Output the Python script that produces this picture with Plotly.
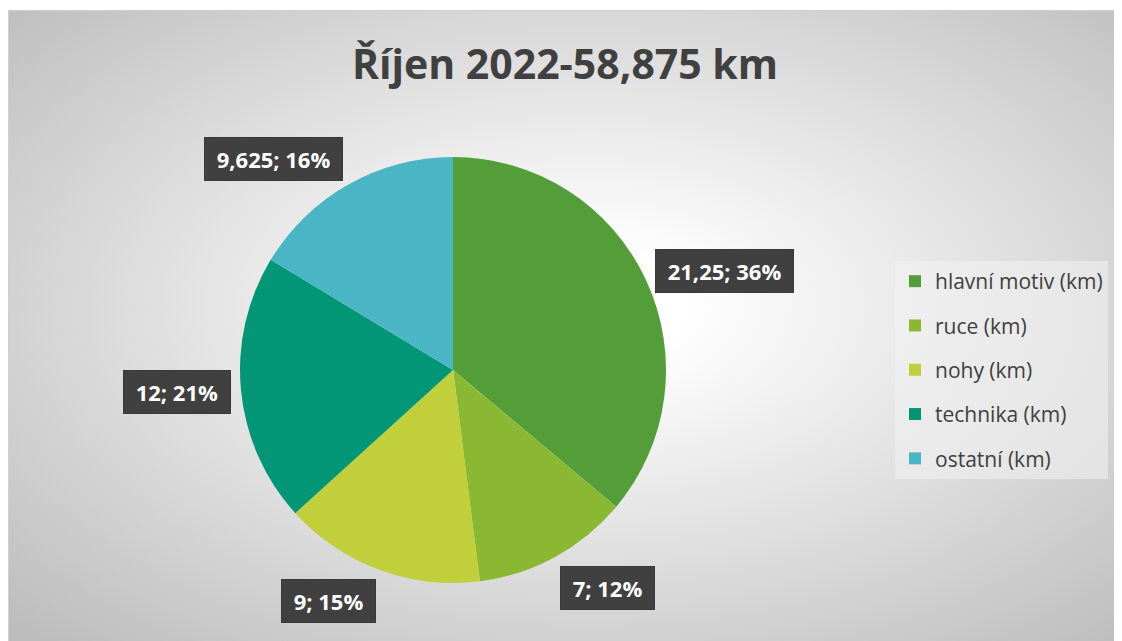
import math
import base64
import plotly.graph_objects as go

# ---------------- data ----------------
categories = ["hlavní motiv (km)", "ruce (km)", "nohy (km)", "technika (km)", "ostatní (km)"]
values = [21.25, 7, 9, 12, 9.625]
title_text = "Říjen 2022-58,875 km"

# ---------------- styles / geometry ----------------
colors = ["#549E39", "#8AB833", "#C0CF3A", "#029676", "#4AB5C4"]
W, H = 1114, 633            # figure size (page body margin is 8px)
OX, OY = 8, 8               # page offset of the figure
PIE_CX, PIE_CY, PIE_R = 453 - OX, 370 - OY, 213   # pixel geometry of the pie (figure px)
LABEL_GAP = 10
FONT = "Open Sans"

total = sum(values)


def fmt(v):
    return ("%g" % v).replace(".", ",")


def rounded_percents(vals):
    # largest-remainder rounding so that the labels add up to 100 %
    raw = [v / sum(vals) * 100 for v in vals]
    base = [int(math.floor(r)) for r in raw]
    rest = 100 - sum(base)
    order = sorted(range(len(raw)), key=lambda i: raw[i] - base[i], reverse=True)
    for i in order[:rest]:
        base[i] += 1
    return base


fig = go.Figure()

fig.add_trace(go.Pie(
    labels=categories,
    values=values,
    sort=False,
    direction="clockwise",
    rotation=0,
    marker=dict(colors=colors, line=dict(width=0)),
    textinfo="none",
    hoverinfo="label+value+percent",
    showlegend=False,
    domain=dict(
        x=[(PIE_CX - PIE_R) / W, (PIE_CX + PIE_R) / W],
        y=[1 - (PIE_CY + PIE_R) / H, 1 - (PIE_CY - PIE_R) / H],
    ),
))

# legend entries (one per category, so the gap between entries can be set)
for i, (cat, col) in enumerate(zip(categories, colors)):
    fig.add_trace(go.Scatter(
        x=[None], y=[None], mode="markers", name=cat,
        marker=dict(symbol="square", size=13, color=col),
        legendgroup="g%d" % i, showlegend=True, hoverinfo="skip",
    ))

# data labels: computed from slice mid-angles
pcts = rounded_percents(values)
annotations = []
cum = 0.0
for v, p in zip(values, pcts):
    frac = v / total
    mid = (cum + frac / 2) * 2 * math.pi
    cum += frac
    s, c = math.sin(mid), math.cos(mid)
    px = PIE_CX + (PIE_R + LABEL_GAP) * s
    py = PIE_CY - (PIE_R + LABEL_GAP) * c
    xa = "left" if s > 0.2 else ("right" if s < -0.2 else "center")
    ya = "bottom" if c > 0.5 else ("top" if c < -0.5 else "middle")
    shift = 5 if (ya == "middle" and c > 0) else (-5 if ya == "bottom" else 0)
    txt = "\u00a0%s; %d%%\u00a0" % (fmt(v), p)
    annotations.append(dict(
        xref="paper", yref="paper", x=px / W, y=1 - py / H,
        xanchor=xa, yanchor=ya, yshift=shift,
        showarrow=False, text=txt,
        borderpad=6, borderwidth=1, bordercolor="#3a3a3a",
        font=dict(family=FONT, size=22, color="white", weight="bold"),
        bgcolor="#404040"))

# radial gradient background
bw, bh = W, H - 2
svg = (
    '<svg xmlns="http://www.w3.org/2000/svg" width="%d" height="%d" viewBox="0 0 %d %d" preserveAspectRatio="none">'
    '<defs><radialGradient id="g" cx="0.52" cy="0.47" r="0.72">'
    '<stop offset="0" stop-color="#ffffff"/>'
    '<stop offset="0.12" stop-color="#ffffff"/>'
    '<stop offset="1" stop-color="#bdbdbd"/>'
    '</radialGradient></defs>'
    '<rect x="0" y="0" width="%d" height="%d" fill="url(#g)"/>'
    '<path d="M0,%d L0,0 L%d,0" fill="none" stroke="#d0d0d0" stroke-width="2"/>'
    '</svg>'
) % (bw, bh, bw, bh, bw, bh, bh, bw)
img_src = "data:image/svg+xml;base64," + base64.b64encode(svg.encode()).decode()

fig.update_layout(
    width=W, height=H,
    margin=dict(l=0, r=0, t=0, b=0),
    paper_bgcolor="white",
    plot_bgcolor="rgba(0,0,0,0)",
    template="none",
    xaxis=dict(visible=False),
    yaxis=dict(visible=False),
    images=[dict(source=img_src, xref="paper", yref="paper",
                 x=0, y=1 - 2 / H, sizex=bw / W, sizey=bh / H,
                 xanchor="left", yanchor="top", sizing="stretch", layer="below")],
    title=dict(text="<b>%s</b>" % title_text, x=0.5, xanchor="center",
               y=1 - (65 - OY) / H, yanchor="middle",
               font=dict(family=FONT, size=41, color="#404040")),
    legend=dict(x=(895 - OX) / W, xanchor="left", y=1 - (261 - OY) / H, yanchor="top",
                bgcolor="rgba(242,242,242,0.55)", borderwidth=0,
                font=dict(family=FONT, size=21, color="#404040"),
                tracegroupgap=14, itemsizing="constant"),
    annotations=annotations,
)

fig.write_html("out.html")
